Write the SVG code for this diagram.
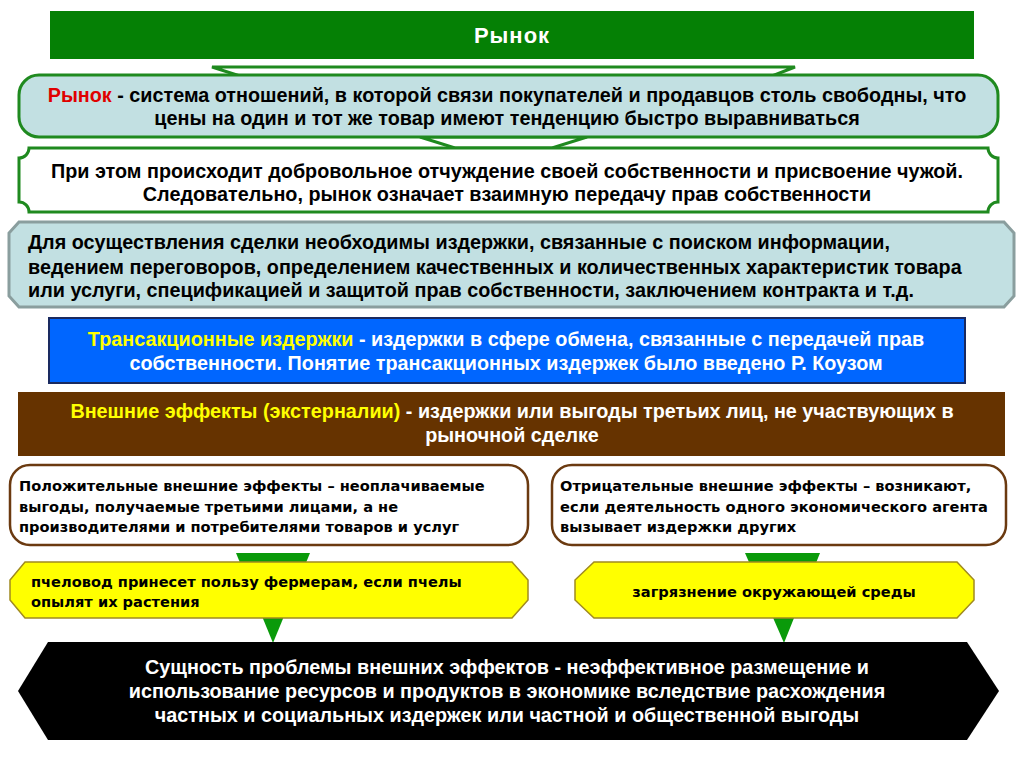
<svg xmlns="http://www.w3.org/2000/svg" width="1024" height="767" viewBox="0 0 1024 767">
<style>
.t{font-family:"Liberation Sans",Arial,sans-serif;font-weight:bold;font-size:19.8px;fill:#000}
.s{font-family:"DejaVu Sans",Verdana,sans-serif;font-weight:bold;font-size:14.6px;fill:#000}
.w{fill:#fff}
.y{fill:#ffff00}
.r{fill:#e00000}
.m{text-anchor:middle}
.tri{fill:#0a9a0a}
</style>
<rect width="1024" height="767" fill="#fff"/>
<g id="header">
<rect x="50" y="11" width="924" height="48" fill="#058005"/>
<text class="t w m" x="512" y="43" style="font-size:22px;letter-spacing:1px">Рынок</text>
</g>
<g id="connectors">
<polygon points="212,67 795,67 772,76 240,76" fill="#fff" stroke="#1f8a1f" stroke-width="3"/>
<polygon points="420,137 587,137 552,148 455,148" fill="#fff" stroke="#1f8a1f" stroke-width="3"/>
<polygon class="tri" points="236,553 310,553 273,643"/>
<polygon class="tri" points="745,553 820,553 784,643"/>
</g>
<g id="market-def">
<rect x="19" y="75" width="979" height="62" rx="20" fill="#c2e0e2" stroke="#1f8a1f" stroke-width="3"/>
<text class="t m" x="507" y="102"><tspan class="r">Рынок</tspan> - система отношений, в которой связи покупателей и продавцов столь свободны, что</text>
<text class="t m" x="507" y="125">цены на один и тот же товар имеют тенденцию быстро выравниваться</text>
</g>
<g id="property">
<path d="M29,148 H988 A10,10 0 0 0 998,158 V202 A10,10 0 0 0 988,212 H29 A10,10 0 0 0 19,202 V158 A10,10 0 0 0 29,148 Z" fill="#fff" stroke="#1f8a1f" stroke-width="3"/>
<text class="t m" x="507" y="178">При этом происходит добровольное отчуждение своей собственности и присвоение чужой.</text>
<text class="t m" x="507" y="201">Следовательно, рынок означает взаимную передачу прав собственности</text>
</g>
<g id="costs">
<polygon points="19,222 1004,222 1014,233 1014,296 1004,307 19,307 9,296 9,233" fill="#c2e0e2" stroke="#8a9e9e" stroke-width="3"/>
<text class="t" x="28" y="249">Для осуществления сделки необходимы издержки, связанные с поиском информации,</text>
<text class="t" x="28" y="274">ведением переговоров, определением качественных и количественных характеристик товара</text>
<text class="t" x="28" y="297">или услуги, спецификацией и защитой прав собственности, заключением контракта и т.д.</text>
</g>
<g id="transaction">
<rect x="49" y="318" width="916" height="65" fill="#0066ff" stroke="#1a2a60" stroke-width="2"/>
<text class="t w m" x="506" y="346"><tspan class="y">Трансакционные издержки</tspan> - издержки в сфере обмена, связанные с передачей прав</text>
<text class="t w m" x="506" y="370">собственности. Понятие трансакционных издержек было введено Р. Коузом</text>
</g>
<g id="externalities">
<rect x="18" y="392" width="987" height="64" fill="#663300"/>
<text class="t w m" x="512" y="418"><tspan class="y">Внешние эффекты (экстерналии)</tspan> - издержки или выгоды третьих лиц, не участвующих в</text>
<text class="t w m" x="512" y="442">рыночной сделке</text>
</g>
<g id="positive">
<rect x="10" y="465" width="518" height="80" rx="20" fill="#fff" stroke="#6b3a10" stroke-width="2.5"/>
<text class="s" x="19" y="491">Положительные внешние эффекты – неоплачиваемые</text>
<text class="s" x="19" y="512">выгоды, получаемые третьими лицами, а не</text>
<text class="s" x="19" y="532">производителями и потребителями товаров и услуг</text>
</g>
<g id="negative">
<rect x="552" y="465" width="454" height="80" rx="20" fill="#fff" stroke="#6b3a10" stroke-width="2.5"/>
<text class="s" x="560" y="491">Отрицательные внешние эффекты – возникают,</text>
<text class="s" x="560" y="512">если деятельность одного экономического агента</text>
<text class="s" x="560" y="532">вызывает издержки других</text>
</g>
<g id="bee">
<polygon points="25,562 512,562 528,580 528,600 512,618 25,618 10,600 10,580" fill="#ffff00" stroke="#a08a20" stroke-width="1.5"/>
<text class="s" x="31" y="587">пчеловод принесет пользу фермерам, если пчелы</text>
<text class="s" x="31" y="607">опылят их растения</text>
</g>
<g id="pollution">
<polygon points="594,562 957,562 974,580 974,600 957,618 594,618 575,600 575,580" fill="#ffff00" stroke="#a08a20" stroke-width="1.5"/>
<text class="s m" x="774" y="597">загрязнение окружающей среды</text>
</g>
<g id="essence">
<polygon points="48,642 967,642 999,691 967,740 48,740 18,691" fill="#000"/>
<text class="t w m" x="507" y="674">Сущность проблемы внешних эффектов - неэффективное размещение и</text>
<text class="t w m" x="507" y="698">использование ресурсов и продуктов в экономике вследствие расхождения</text>
<text class="t w m" x="507" y="722">частных и социальных издержек или частной и общественной выгоды</text>
</g>
</svg>
